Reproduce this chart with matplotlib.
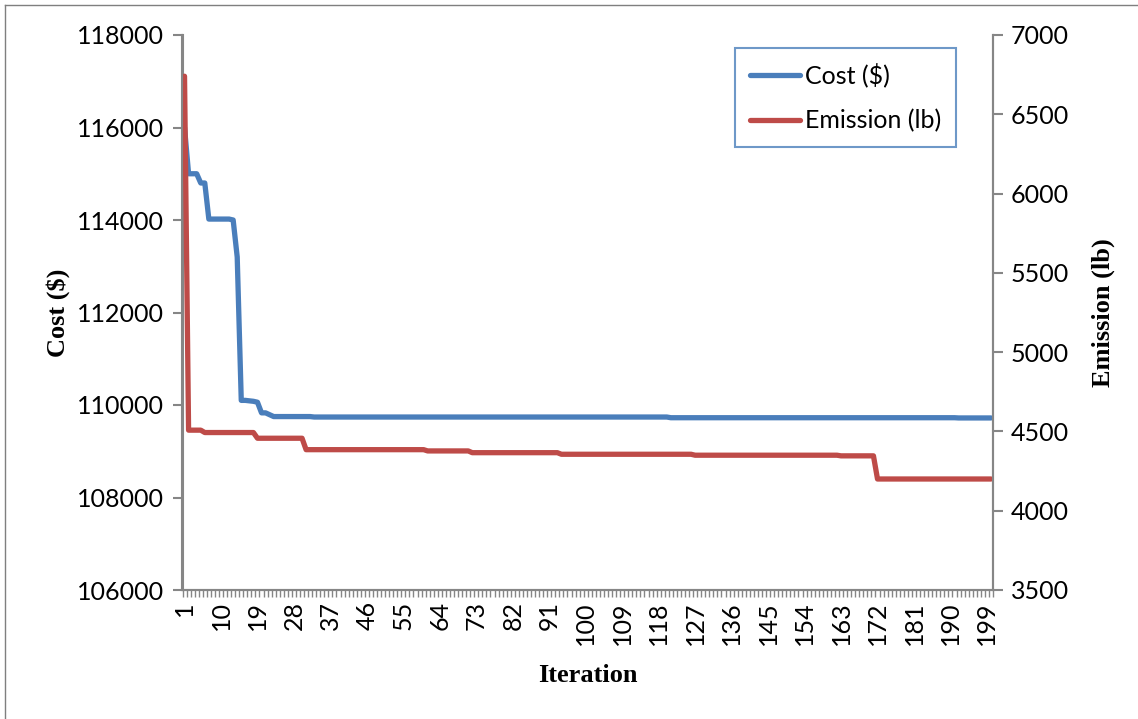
import matplotlib
matplotlib.use("Agg")
import matplotlib.pyplot as plt
from matplotlib.lines import Line2D

# ---- data, stored as (value, run length) ----
cost_runs = [(116000, 1), (115000, 3), (114800, 2), (114020, 6), (114000, 1),
             (113200, 1), (110100, 2), (110090, 1), (110080, 1), (110060, 1),
             (109830, 2), (109790, 1), (109750, 10), (109740, 88),
             (109725, 71), (109720, 9)]
emission_runs = [(6740, 1), (4508, 4), (4493, 13), (4457, 12), (4385, 30),
                 (4377, 11), (4366, 22), (4356, 33), (4350, 36), (4346, 9),
                 (4200, 29)]

cost = [v for v, n in cost_runs for _ in range(n)]
emission = [v for v, n in emission_runs for _ in range(n)]
iterations = list(range(1, len(cost) + 1))
xtick_labels = list(range(1, 200, 9))
cost_ticks = [106000, 108000, 110000, 112000, 114000, 116000, 118000]
emission_ticks = [3500, 4000, 4500, 5000, 5500, 6000, 6500, 7000]

# ---- style ----
W, H = 1138, 719
fig = plt.figure(figsize=(W / 100, H / 100), dpi=100)
tick_font = "Lato"
title_font = "Liberation Serif"
axis_col = "#868686"
blue = "#4A7EBB"
red = "#BE4B48"
fs = 18

ax = fig.add_axes([182.5 / W, 1 - 590 / H, (993 - 182.5) / W, (590 - 35) / H])
ax2 = ax.twinx()

l1, = ax.plot(iterations, cost, color=blue, lw=3.8, solid_joinstyle="round",
              solid_capstyle="round", label="Cost ($)")
l2, = ax2.plot(iterations, emission, color=red, lw=3.8, solid_joinstyle="round",
               solid_capstyle="round", label="Emission (lb)")

ax.set_xlim(0.5, len(iterations) + 0.5)
ax.set_ylim(106000, 118000)
ax2.set_ylim(3500, 7000)

for a in (ax, ax2):
    a.spines["top"].set_visible(False)
    for s in ("left", "right", "bottom"):
        a.spines[s].set_color(axis_col)
        a.spines[s].set_linewidth(1.5)

ax.set_yticks(cost_ticks)
ax.set_yticklabels([str(t) for t in cost_ticks], fontfamily=tick_font, fontsize=fs)
ax2.set_yticks(emission_ticks)
ax2.set_yticklabels([str(t) for t in emission_ticks], fontfamily=tick_font, fontsize=fs)
ax.tick_params(axis="y", direction="out", length=7, width=1.5, color=axis_col, pad=6)
ax2.tick_params(axis="y", direction="out", length=7, width=1.5, color=axis_col, pad=6)

# category tick marks between each category, labels every 9
ax.set_xticks([i + 0.5 for i in range(0, len(iterations) + 1)], minor=True)
ax.set_xticks(xtick_labels)
ax.set_xticklabels([str(t) for t in xtick_labels], rotation=90,
                   fontfamily=tick_font, fontsize=fs)
ax.tick_params(axis="x", which="major", length=0, pad=8)
ax.tick_params(axis="x", which="minor", direction="out", length=5, width=1,
               color=axis_col)

ax.set_xlabel("Iteration", fontfamily=title_font, fontweight="bold", fontsize=19,
              labelpad=14)
ax.set_ylabel("Cost ($)", fontfamily=title_font, fontweight="bold", fontsize=19,
              labelpad=5)
ax2.set_ylabel("Emission (lb)", fontfamily=title_font, fontweight="bold",
               fontsize=19, rotation=90, labelpad=16)

leg = ax2.legend(handles=[l1, l2], loc="upper left",
                 bbox_to_anchor=((735 - 182.5) / 810.5, (590 - 48) / 555),
                 borderaxespad=0, fancybox=False, frameon=True,
                 prop={"family": tick_font, "size": fs},
                 handlelength=2.0, handletextpad=0.2, borderpad=0.6,
                 labelspacing=0.85)
leg.get_frame().set_edgecolor(blue)
leg.get_frame().set_linewidth(1.5)

# outer figure border (top and left)
fig.add_artist(Line2D([5 / W, 5 / W], [0, 1 - 5 / H], transform=fig.transFigure,
                      color="#7f7f7f", lw=1))
fig.add_artist(Line2D([5 / W, 1], [1 - 5 / H, 1 - 5 / H], transform=fig.transFigure,
                      color="#7f7f7f", lw=1))

fig.savefig("out.png", dpi=100)
